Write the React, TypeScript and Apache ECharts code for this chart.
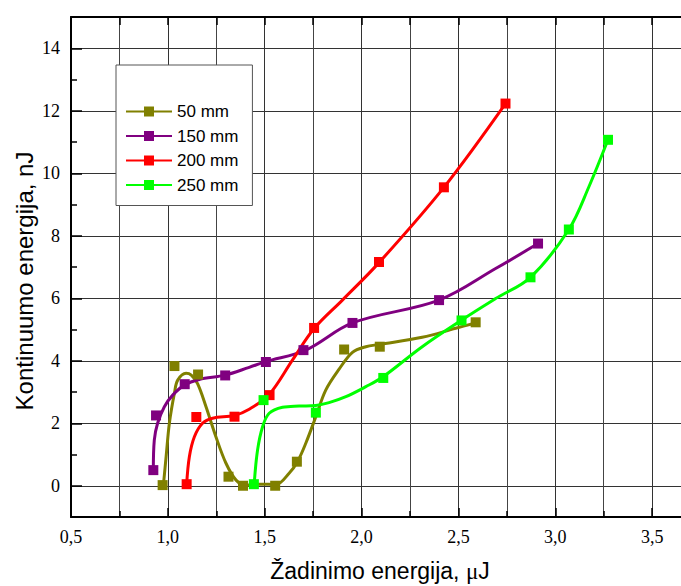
import React, { useEffect, useRef } from "react";
import * as echarts from "echarts";

// Series labels and colours
const seriesNames = ["50 mm", "150 mm", "200 mm", "250 mm"];
const seriesColors = ["#808000", "#800080", "#ff0000", "#00ff00"];

// Measured points [pump energy µJ, continuum energy nJ]
const points50 = [
  [0.973, 0.02], [1.034, 3.83], [1.156, 3.56], [1.313, 0.29], [1.388, 0.0],
  [1.554, 0.0], [1.666, 0.77], [1.91, 4.36], [2.094, 4.45], [2.589, 5.23],
];
const points150 = [
  [0.925, 0.5], [0.939, 2.25], [1.087, 3.25], [1.296, 3.53], [1.506, 3.96],
  [1.7, 4.34], [1.953, 5.21], [2.4, 5.94], [2.911, 7.75],
];
const points200 = [
  [1.097, 0.05], [1.147, 2.2], [1.344, 2.21], [1.525, 2.9], [1.755, 5.05],
  [2.09, 7.16], [2.425, 9.55], [2.743, 12.23],
];
const points250 = [
  [1.444, 0.05], [1.494, 2.74], [1.764, 2.34], [2.112, 3.45], [2.516, 5.29],
  [2.872, 6.67], [3.07, 8.2], [3.272, 11.07],
];

// Spline fit curves drawn through each data set
const curve50 = [
  [0.977, 0.02], [0.991, 0.93], [1.008, 2.01], [1.034, 2.97], [1.051, 3.38],
  [1.094, 3.6], [1.121, 3.54], [1.154, 3.26], [1.197, 2.53], [1.248, 1.57],
  [1.3, 0.72], [1.352, 0.18], [1.403, 0.02], [1.472, 0.05], [1.558, 0.04],
  [1.626, 0.4], [1.669, 0.77], [1.712, 1.36], [1.764, 2.21], [1.815, 3.06],
  [1.884, 3.73], [1.953, 4.27], [2.022, 4.45], [2.09, 4.52], [2.313, 4.75],
  [2.486, 5.04], [2.589, 5.21],
];
const curve150 = [
  [0.925, 0.5], [0.93, 1.46], [0.947, 2.0], [0.982, 2.53], [1.025, 2.9],
  [1.085, 3.22], [1.162, 3.4], [1.296, 3.54], [1.42, 3.79], [1.506, 3.97],
  [1.712, 4.34], [1.953, 5.21], [2.4, 5.94], [2.692, 6.95], [2.911, 7.75],
];
const curve200 = [
  [1.097, 0.05], [1.111, 0.93], [1.137, 1.57], [1.179, 2.0], [1.231, 2.16],
  [1.343, 2.25], [1.42, 2.45], [1.523, 2.92], [1.643, 4.02], [1.755, 5.03],
  [1.901, 5.94], [2.09, 7.14], [2.425, 9.55], [2.743, 12.23],
];
const curve250 = [
  [1.446, 0.08], [1.463, 1.14], [1.489, 1.89], [1.523, 2.32], [1.592, 2.51],
  [1.678, 2.55], [1.764, 2.57], [1.832, 2.66], [1.919, 2.85], [2.022, 3.17],
  [2.107, 3.47], [2.313, 4.45], [2.516, 5.3], [2.692, 5.99], [2.872, 6.67],
  [3.07, 8.2], [3.173, 9.56], [3.272, 11.07],
];

// Axis ticks
const xLabelMax = 3.5;
const yLabelValues = [0, 2, 4, 6, 8, 10, 12, 14];
const yMinorValues = [-1, 1, 3, 5, 7, 9, 11, 13, 15];

const allPoints = [points50, points150, points200, points250];
const allCurves = [curve50, curve150, curve200, curve250];

const SERIF = "'Liberation Serif', 'Times New Roman', serif";
const SANS = "'Liberation Sans', Arial, Helvetica, sans-serif";

export default function App() {
  const ref = useRef<HTMLDivElement>(null);

  useEffect(() => {
    if (!ref.current) return;
    const chart = echarts.init(ref.current, null, { renderer: "svg" });

    const lineSeries = seriesNames.map((name, i) => ({
      name,
      type: "line",
      data: allCurves[i],
      smooth: 0.35,
      symbol: "rect",
      symbolSize: 10,
      showSymbol: false,
      lineStyle: { color: seriesColors[i], width: 3 },
      itemStyle: { color: seriesColors[i] },
      z: 3,
    }));
    const markerSeries = seriesNames.map((name, i) => ({
      name,
      type: "scatter",
      data: allPoints[i],
      symbol: "rect",
      symbolSize: 10,
      itemStyle: { color: seriesColors[i], opacity: 1 },
      z: 4,
    }));

    const gridLine = { show: true, lineStyle: { color: "#333", width: 1 } };

    chart.setOption({
      animation: false,
      backgroundColor: "#fff",
      // plot area runs past the right edge of the canvas
      grid: { left: 71, top: 17, width: 678, bottom: 69, outerBoundsMode: "none", containLabel: false },
      xAxis: [
        {
          type: "value",
          min: 0.5,
          max: 4.0,
          interval: 0.5,
          position: "bottom",
          axisLine: { show: true, onZero: false, lineStyle: { color: "#000", width: 2 } },
          axisTick: { show: true, inside: true, length: 9, lineStyle: { color: "#000", width: 1.5 } },
          minorTick: { show: true, splitNumber: 2, length: 6, lineStyle: { color: "#000", width: 1.5 } },
          splitLine: gridLine,
          minorSplitLine: { show: true, lineStyle: { color: "#444", width: 1 } },
          axisLabel: {
            margin: 11,
            fontFamily: SERIF,
            fontSize: 18,
            color: "#000",
            formatter: (v: number) => (v > xLabelMax ? "" : v.toFixed(1).replace(".", ",")),
          },
        },
        {
          type: "value",
          min: 0.5,
          max: 4.0,
          interval: 0.5,
          position: "top",
          axisLine: { show: true, onZero: false, lineStyle: { color: "#000", width: 2 } },
          axisTick: { show: true, inside: true, length: 8, lineStyle: { color: "#000", width: 1.5 } },
          minorTick: { show: true, splitNumber: 2, length: 8, lineStyle: { color: "#000", width: 1.5 } },
          splitLine: { show: false },
          axisLabel: { show: false },
        },
      ],
      yAxis: [
        {
          type: "value",
          min: -1,
          max: 15,
          interval: 1,
          position: "left",
          axisLine: { show: true, onZero: false, lineStyle: { color: "#000", width: 2 } },
          axisTick: {
            show: true,
            inside: true,
            length: 11,
            customValues: yLabelValues,
            lineStyle: { color: "#000", width: 1.5 },
          },
          splitLine: gridLine,
          axisLabel: {
            margin: 11,
            fontFamily: SERIF,
            fontSize: 18,
            color: "#000",
            customValues: yLabelValues,
            formatter: (v: number) => (v >= 0 && v % 2 === 0 ? String(v) : ""),
          },
        },
        {
          type: "value",
          min: -1,
          max: 15,
          interval: 1,
          position: "left",
          offset: 0,
          axisLine: { show: false },
          axisTick: {
            show: true,
            inside: true,
            length: 6,
            customValues: yMinorValues,
            lineStyle: { color: "#000", width: 1.5 },
          },
          splitLine: { show: false },
          axisLabel: { show: false },
        },
      ],
      legend: {
        data: seriesNames,
        orient: "vertical",
        left: 116,
        top: 65,
        padding: [38, 14, 12, 9],
        itemWidth: 46,
        itemHeight: 12.5,
        itemGap: 7.5,
        backgroundColor: "#fff",
        borderColor: "#555",
        borderWidth: 1,
        borderRadius: 0,
        textStyle: { fontFamily: SANS, fontSize: 17, color: "#000", lineHeight: 17 },
      },
      graphic: [
        {
          type: "text",
          x: 24,
          y: 281,
          rotation: Math.PI / 2,
          style: {
            text: "Kontinuumo energija, nJ",
            fontFamily: SANS,
            fontSize: 24,
            fill: "#000",
            align: "center",
            verticalAlign: "middle",
          },
        },
        {
          type: "text",
          x: 380,
          y: 571,
          style: {
            text: "Žadinimo energija, {mu|μ}J",
            fontFamily: SANS,
            fontSize: 23,
            fill: "#000",
            align: "center",
            verticalAlign: "middle",
            rich: {
              mu: { fontFamily: SERIF, fontSize: 23, fill: "#000" },
            },
          },
        },
      ],
      series: [...lineSeries, ...markerSeries],
    });

    return () => chart.dispose();
  }, []);

  return (
    <div
      ref={ref}
      style={{ position: "absolute", left: 0, top: 0, width: 681, height: 586 }}
    />
  );
}
